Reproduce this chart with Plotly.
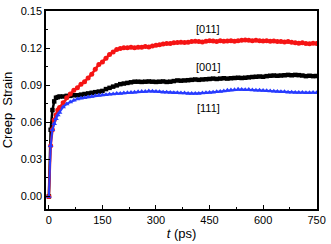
import plotly.graph_objects as go

t = [0, 5, 10, 15, 20, 25, 30] + list(range(40, 751, 10))

strain_011 = [0, 0.041, 0.054, 0.062, 0.066, 0.070, 0.072,
              0.076, 0.080, 0.083, 0.086, 0.088, 0.091, 0.093, 0.096, 0.099, 0.103,
              0.107, 0.109, 0.112, 0.115, 0.117, 0.119, 0.120, 0.1205, 0.1205, 0.121,
              0.1205, 0.121, 0.121, 0.1215, 0.1212, 0.122, 0.1225, 0.123, 0.1235, 0.124,
              0.124, 0.1245, 0.1248, 0.125, 0.1248, 0.125, 0.1255, 0.1258, 0.1255, 0.1252,
              0.1258, 0.1262, 0.126, 0.1255, 0.1262, 0.1258, 0.126, 0.1262, 0.1258, 0.1262,
              0.1265, 0.1268, 0.1265, 0.1262, 0.1265, 0.1262, 0.126, 0.1262, 0.1258, 0.126,
              0.1256, 0.1255, 0.1252, 0.1255, 0.125, 0.1245, 0.1242, 0.1245, 0.124, 0.1238,
              0.1242, 0.124]

strain_001 = [0, 0.054, 0.070, 0.077, 0.080, 0.0805, 0.081,
              0.081, 0.0815, 0.0815, 0.082, 0.082, 0.0825, 0.083, 0.0835, 0.084, 0.0845,
              0.085, 0.0855, 0.087, 0.088, 0.089, 0.090, 0.091, 0.0915, 0.092, 0.0925,
              0.093, 0.093, 0.0928, 0.093, 0.0932, 0.093, 0.0928, 0.093, 0.0932, 0.0928,
              0.093, 0.0935, 0.094, 0.0938, 0.094, 0.0942, 0.0945, 0.0948, 0.0945, 0.0948,
              0.095, 0.0952, 0.0955, 0.0952, 0.0955, 0.0958, 0.0955, 0.0958, 0.096, 0.0962,
              0.096, 0.0962, 0.0965, 0.0968, 0.097, 0.0972, 0.097, 0.0975, 0.0978, 0.098,
              0.0978, 0.098, 0.0982, 0.0985, 0.0982, 0.0985, 0.0983, 0.098, 0.0975, 0.0978,
              0.0975, 0.0976]

strain_111 = [0, 0.041, 0.054, 0.059, 0.063, 0.066, 0.068,
              0.0725, 0.075, 0.0765, 0.078, 0.079, 0.0795, 0.080, 0.0805, 0.081, 0.0815,
              0.082, 0.0822, 0.0825, 0.0828, 0.083, 0.0835, 0.0835, 0.0838, 0.084, 0.0842,
              0.0845, 0.0848, 0.085, 0.085, 0.0855, 0.0852, 0.085, 0.0848, 0.0845, 0.0845,
              0.0842, 0.084, 0.084, 0.0838, 0.0838, 0.0835, 0.0835, 0.0835, 0.0835, 0.0838,
              0.084, 0.0842, 0.0845, 0.0848, 0.085, 0.0855, 0.086, 0.0862, 0.0865, 0.0868,
              0.0866, 0.0865, 0.0866, 0.0862, 0.086, 0.086, 0.0858, 0.0856, 0.0854, 0.0852,
              0.085, 0.0848, 0.0848, 0.0845, 0.0845, 0.0843, 0.0842, 0.0842, 0.084, 0.084,
              0.0842, 0.084]

labels = ["[011]", "[001]", "[111]"]
label_x = [447, 447, 447]
label_y = [0.136, 0.105, 0.0715]

y_ticks = [0.00, 0.03, 0.06, 0.09, 0.12, 0.15]
x_ticks = [0, 150, 300, 450, 600, 750]

font = "Liberation Sans, Arial, sans-serif"

fig = go.Figure()
fig.add_trace(go.Scatter(x=t, y=strain_001, mode="lines+markers",
                         line=dict(color="black", width=2.5),
                         marker=dict(symbol="square", size=4.5, color="black")))
fig.add_trace(go.Scatter(x=t, y=strain_011, mode="lines+markers",
                         line=dict(color="rgb(245,20,20)", width=2.5),
                         marker=dict(symbol="circle", size=5, color="rgb(245,20,20)")))
fig.add_trace(go.Scatter(x=t, y=strain_111, mode="lines+markers",
                         line=dict(color="rgb(40,60,255)", width=2),
                         marker=dict(symbol="triangle-up", size=5, color="rgb(40,60,255)")))

for txt, lx, ly in zip(labels, label_x, label_y):
    fig.add_annotation(x=lx, y=ly, text=txt, showarrow=False,
                       font=dict(family=font, size=11, color="black"))

axis_common = dict(showline=True, linecolor="black", linewidth=1.5, mirror=True,
                   ticks="inside", ticklen=4, tickwidth=1.2, tickcolor="black",
                   showgrid=False, zeroline=False,
                   tickfont=dict(family=font, size=11, color="black"))

fig.update_xaxes(range=[-8, 751], tickvals=x_ticks,
                 minor=dict(ticks="inside", ticklen=2.5, dtick=75, tick0=0, tickcolor="black"),
                 title=dict(text="<i>t</i> (ps)", font=dict(family=font, size=13, color="black"),
                            standoff=4),
                 **axis_common)
fig.update_yaxes(range=[-0.0102, 0.1503], tickvals=y_ticks, tickformat=".2f",
                 minor=dict(ticks="inside", ticklen=2.5, dtick=0.015, tick0=0, tickcolor="black"),
                 title=dict(text="Creep  Strain", font=dict(family=font, size=13, color="black"),
                            standoff=6),
                 **axis_common)

fig.update_layout(width=331, height=244, showlegend=False,
                  margin=dict(l=46, r=11, t=5, b=34),
                  plot_bgcolor="white", paper_bgcolor="white")

fig.write_html("out.html", config={"displayModeBar": False},
               post_script="document.body.style.margin='0';document.body.style.overflow='hidden';")
